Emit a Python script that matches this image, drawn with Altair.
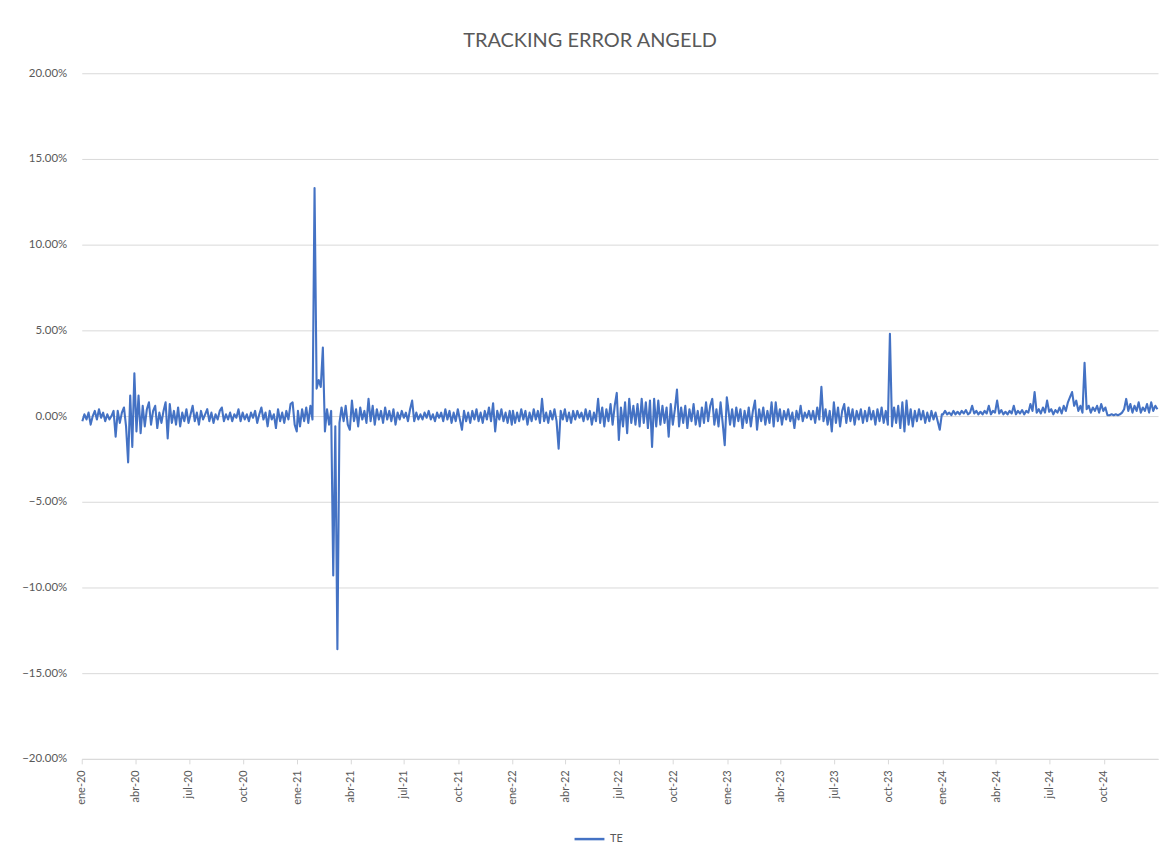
import altair as alt
import pandas as pd

te_2020 = [-0.3, 0.1, -0.2, 0.2, -0.5, 0.0, 0.3, -0.2, 0.4, -0.1,
           0.2, -0.3, 0.1, -0.2, 0.0, 0.3, -1.2, 0.3, -0.4, 0.2,
           0.5, -0.6, -2.7, 1.2, -1.8, 2.5, -0.9, 1.2, -1.0, 0.6,
           -0.6, 0.4, 0.8, -0.5, 0.3, 0.6, -0.7, 0.2, -0.4, 0.3,
           0.8, -1.3, 0.7, -0.4, 0.3, -0.5, 0.5, -0.6, 0.2, -0.3,
           0.4, -0.4, 0.1, 0.6, -0.3, 0.2, -0.5, 0.3, -0.2, 0.1,
           0.4, -0.3, 0.2, -0.4, 0.1, -0.2, 0.3, 0.5, -0.3, 0.1,
           -0.2, 0.2, -0.3, 0.1, -0.1, 0.4, -0.3, 0.2, -0.2, 0.1,
           -0.3, 0.2, -0.1, 0.3, -0.4, 0.1, 0.5, -0.2, 0.2, -0.6,
           0.3, -0.2, 0.1, -0.7, 0.4, -0.3, 0.2, -0.4, 0.3, -0.2,
           0.7, 0.8, -0.5, -0.9]

te_2021 = [0.3, -0.6, 0.4, -0.3, 0.5, -0.4, 0.6, -0.2, 13.3, 1.6,
           2.1, 1.7, 4.0, -0.9, 0.4, -0.5, 0.3, -9.3, -0.6, -13.6,
           -0.4, 0.5, -0.3, 0.6, -0.5, -0.8, 0.9, -0.3, 0.4, -0.6,
           0.5, -0.2, 0.3, -0.4, 1.0, -0.3, 0.6, -0.5, 0.4, -0.2,
           0.3, -0.4, 0.5, -0.2, 0.3, -0.3, 0.4, -0.5, 0.2, -0.2,
           0.3, -0.1, 0.2, -0.3, 0.4, 0.9, -0.3, 0.2, -0.2, 0.1,
           -0.2, 0.2, -0.1, 0.3, -0.2, 0.1, -0.3, 0.2, -0.1, 0.2,
           -0.3, 0.4, -0.2, 0.3, -0.4, 0.2, -0.3, 0.4, -0.2, -0.8,
           0.3, -0.3, 0.2, -0.4, 0.3, -0.2, 0.4, -0.3, 0.2, -0.4,
           0.3, -0.2, 0.5, -0.3, 0.75, -0.9, 0.3, -0.2, 0.4, -0.3,
           0.2, -0.4, 0.3, -0.5]

te_2022 = [0.3, -0.4, 0.2, -0.3, 0.4, -0.2, 0.3, -0.5, 0.2, -0.3,
           0.4, -0.2, 0.3, -0.4, 1.0, -0.3, 0.2, -0.4, 0.3, -0.2,
           0.4, -0.3, -1.9, 0.3, -0.2, 0.4, -0.3, 0.2, -0.4, 0.3,
           -0.2, 0.3, -0.1, 0.2, -0.3, 0.4, -0.2, 0.3, -0.5, 0.2,
           -0.3, 1.0, -0.4, 0.5, -0.6, 0.4, -0.3, 0.7, -0.5, 0.6,
           1.35, -1.4, 0.5, -0.6, 0.8, -1.0, 1.0, -0.4, 0.6, -0.5,
           0.7, -0.6, 1.0, -0.4, 0.8, -0.7, 0.9, -1.8, 1.0, -0.6,
           0.9, -0.5, 0.6, -0.4, 0.5, -1.2, 0.7, -0.5, 0.4, 1.55,
           -0.6, 0.5, -0.4, 0.6, -0.7, 0.4, -0.3, 0.7, -0.5, 0.3,
           -0.6, 0.5, -0.4, 0.8, -0.3, 0.6, 1.0, -0.5, 0.4, -0.6,
           0.8, -0.4, -1.7, 1.1]

te_2023 = [0.6, -0.5, 0.4, -0.6, 0.5, -0.3, 0.4, -0.7, 0.3, -0.4,
           0.5, -0.6, 0.3, 0.9, -0.8, 0.4, -0.3, 0.5, -0.5, 0.3,
           -0.4, 0.8, -0.6, 0.8, -0.3, 0.4, -0.5, 0.3, -0.2, 0.4,
           -0.3, 0.2, -0.7, 0.3, -0.2, 0.6, -0.3, 0.2, -0.1, 0.3,
           -0.2, 0.3, -0.4, 0.5, -0.2, 1.7, -0.3, 0.4, -0.5, 0.3,
           -0.9, 0.8, -0.4, 0.5, -0.6, 0.3, 0.7, -0.4, 0.5, -0.3,
           0.4, -0.5, 0.3, -0.2, 0.4, -0.4, 0.3, -0.3, 0.5, -0.2,
           0.3, -0.5, 0.4, -0.3, 0.5, -0.4, 0.3, -0.5, 4.8, -0.6,
           0.5, -0.4, 0.6, -0.7, 0.8, -0.9, 0.9, -0.5, 0.4, -0.6,
           0.3, -0.3, 0.4, -0.2, 0.3, -0.4, 0.2, -0.3, 0.3, -0.2,
           0.2, -0.3, -0.8, 0.1]

te_2024 = [0.1, 0.3, 0.1, 0.2, 0.05, 0.3, 0.1, 0.25, 0.1, 0.3,
           0.15, 0.35, 0.1, 0.2, 0.6, 0.15, 0.3, 0.1, 0.25, 0.1,
           0.3, 0.15, 0.6, 0.1, 0.3, 0.2, 0.9, 0.15, 0.35, 0.1,
           0.25, 0.1, 0.3, 0.15, 0.6, 0.1, 0.3, 0.15, 0.35, 0.1,
           0.3, 0.2, 0.7, 0.3, 1.4, 0.2, 0.4, 0.15, 0.5, 0.2,
           0.9, 0.25, 0.4, 0.1, 0.35, 0.2, 0.5, 0.15, 0.6, 0.3,
           0.8, 1.1, 1.4, 0.6, 0.9, 0.3, 0.6, 0.2, 3.1, 0.4,
           0.6, 0.2, 0.5, 0.3, 0.6, 0.2, 0.7, 0.3, 0.5, 0.05,
           0.05, 0.1, 0.05, 0.1, 0.05, 0.1, 0.2, 0.4, 1.0, 0.3,
           0.7, 0.2, 0.6, 0.3, 0.8, 0.2, 0.5, 0.3, 0.7, 0.2,
           0.8, 0.3, 0.6, 0.4]

years = [2020, 2021, 2022, 2023, 2024]
series = [te_2020, te_2021, te_2022, te_2023, te_2024]
month_labels = ['ene', 'feb', 'mar', 'abr', 'may', 'jun',
                'jul', 'ago', 'sep', 'oct', 'nov', 'dic']
series_name = "TE"
chart_title = "TRACKING ERROR ANGELD"

frames = []
for yr, vals in zip(years, series):
    dates = pd.date_range(f"{yr}-01-02", f"{yr}-12-31", periods=len(vals))
    frames.append(pd.DataFrame({
        "date": dates.strftime("%Y-%m-%dT%H:%M:%S"),
        "te": [v / 100 for v in vals],
        "series": series_name,
    }))
df = pd.concat(frames, ignore_index=True)

tick_dates = [alt.DateTime(year=y, month=m, date=1) for y in years for m in (1, 4, 7, 10)]
label_expr = ("[" + ",".join(f"'{m}'" for m in month_labels) + "][month(datum.value)]"
              " + '-' + timeFormat(datum.value, '%y')")

grey = "#595959"
font = "Lato"

chart = alt.Chart(df).mark_line(strokeWidth=2.1, strokeJoin="round").encode(
    x=alt.X("date:T",
            scale=alt.Scale(domain=[alt.DateTime(year=2020, month=1, date=1),
                                    alt.DateTime(year=2025, month=1, date=1)]),
            axis=alt.Axis(values=tick_dates, labelExpr=label_expr, labelAngle=-90,
                          grid=False, domainColor="#D9D9D9", tickColor="#D9D9D9",
                          tickSize=5, labelPadding=6, labelFontSize=11,
                          labelColor=grey, labelFont=font, title=None,
                          labelOverlap=False)),
    y=alt.Y("te:Q",
            scale=alt.Scale(domain=[-0.2, 0.2]),
            axis=alt.Axis(format=".2%", values=[-0.2, -0.15, -0.1, -0.05, 0, 0.05, 0.1, 0.15, 0.2],
                          grid=True, gridColor="#D9D9D9", domain=False, ticks=False,
                          labelPadding=15, labelFontSize=11.5, labelColor=grey,
                          labelFont=font, title=None)),
    color=alt.Color("series:N",
                    scale=alt.Scale(range=["#4472C4"]),
                    legend=alt.Legend(title=None, orient="none", legendX=493, legendY=752,
                                      symbolType="stroke", symbolSize=900,
                                      symbolStrokeWidth=2.5, labelFontSize=11,
                                      labelColor=grey, labelFont=font)),
).properties(
    width=1080,
    height=688,
    padding={"left": 74, "top": 64, "right": 5, "bottom": 95},
    autosize="none",
    title=alt.TitleParams(chart_title, fontSize=20, color=grey, font=font,
                          fontWeight="normal", offset=16, dx=-30),
).configure_view(strokeWidth=0)

chart.save("out.html", embed_options={"renderer": "svg", "actions": False})
